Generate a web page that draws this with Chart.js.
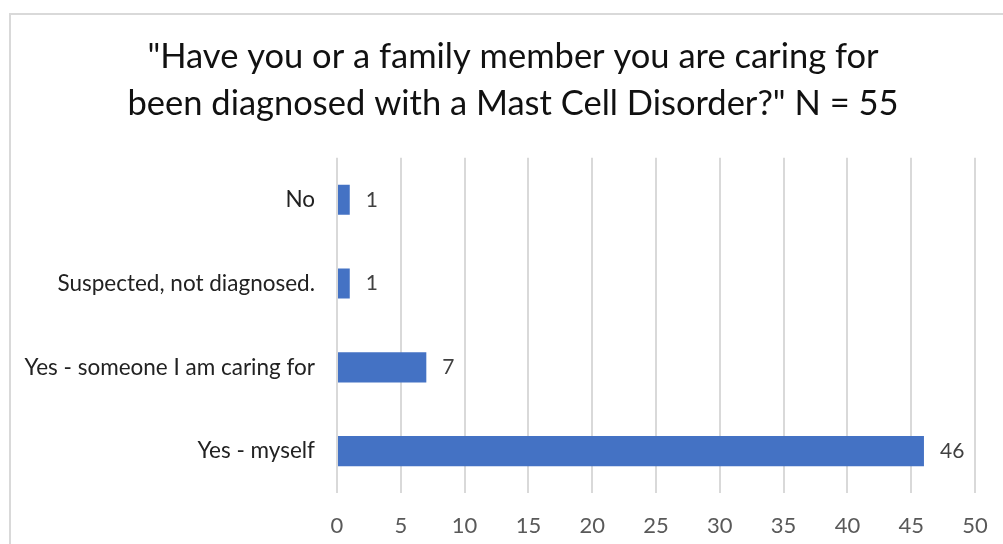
<!DOCTYPE html>
<html>
<head>
<meta charset="utf-8">
<script src="https://cdn.jsdelivr.net/npm/chart.js@4"></script>
<style>
  body { margin: 0; background: #fff; overflow: hidden; }
  #frame { position: absolute; left: 9px; top: 13px; width: 1010px; height: 560px; border: 2px solid #d9d9d9; }
  #wrap { position: absolute; left: 0; top: 0; width: 1003px; height: 544px; }
</style>
</head>
<body>
<div id="frame"></div>
<div id="wrap"><canvas id="myChart"></canvas></div>
<script>
const answers = ['No', 'Suspected, not diagnosed.', 'Yes - someone I am caring for', 'Yes - myself'];
const counts = [1, 1, 7, 46];
const xTicks = [0, 5, 10, 15, 20, 25, 30, 35, 40, 45, 50];

const ctx = document.querySelector('#myChart');

// little plugin for the value labels at the end of each bar
const valueLabels = {
    id: 'valueLabels',
    afterLayout(chart) {
        // title sits a bit right of the canvas centre in the original
        if (chart.titleBlock) {
            chart.titleBlock.left = 51;
        }
    },
    afterDatasetsDraw(chart) {
        const c = chart.ctx;
        const meta = chart.getDatasetMeta(0);
        c.save();
        c.font = '21px Lato';
        c.fillStyle = '#404040';
        c.textAlign = 'left';
        c.textBaseline = 'middle';
        meta.data.forEach((bar, i) => {
            c.fillText(String(counts[i]), bar.x + 16, bar.y);
        });
        c.restore();
    }
};

new Chart(ctx, {
    type: 'bar',
    data: {
        labels: answers,
        datasets: [{
            data: counts,
            backgroundColor: '#4472C4',
            borderWidth: 0,
            categoryPercentage: 1,
            barPercentage: 0.36
        }]
    },
    options: {
        indexAxis: 'y',
        responsive: true,
        maintainAspectRatio: false,
        animation: false,
        layout: { padding: { left: 0, right: 28, top: 0, bottom: 0 } },
        plugins: {
            legend: { display: false },
            tooltip: { enabled: false },
            title: {
                display: true,
                text: ['"Have you or a family member you are caring for', 'been diagnosed with a Mast Cell Disorder?" N = 55'],
                color: '#111',
                font: { family: 'Lato', size: 34.5, weight: 'normal', lineHeight: 1.36 },
                padding: { top: 33, bottom: 31 }
            }
        },
        scales: {
            x: {
                min: 0,
                max: 50,
                afterBuildTicks: (s) => { s.ticks = xTicks.map(v => ({ value: v })); },
                afterFit: (s) => {
                    s.height = 51;
                    // tick padding should only push labels down, not squeeze the sides
                    s.paddingLeft = 0;
                    s.paddingRight = 0;
                },
                border: { display: false },
                grid: { color: '#d9d9d9', lineWidth: 2, drawTicks: false },
                ticks: { color: '#595959', padding: 20, font: { family: 'Lato', size: 22 } }
            },
            y: {
                afterFit: (s) => { s.width = 337; },
                border: { display: false },
                grid: { display: false, drawTicks: false },
                ticks: { color: '#222', padding: 22, font: { family: 'Lato', size: 22.5 } }
            }
        }
    },
    plugins: [valueLabels]
});
</script>
</body>
</html>
